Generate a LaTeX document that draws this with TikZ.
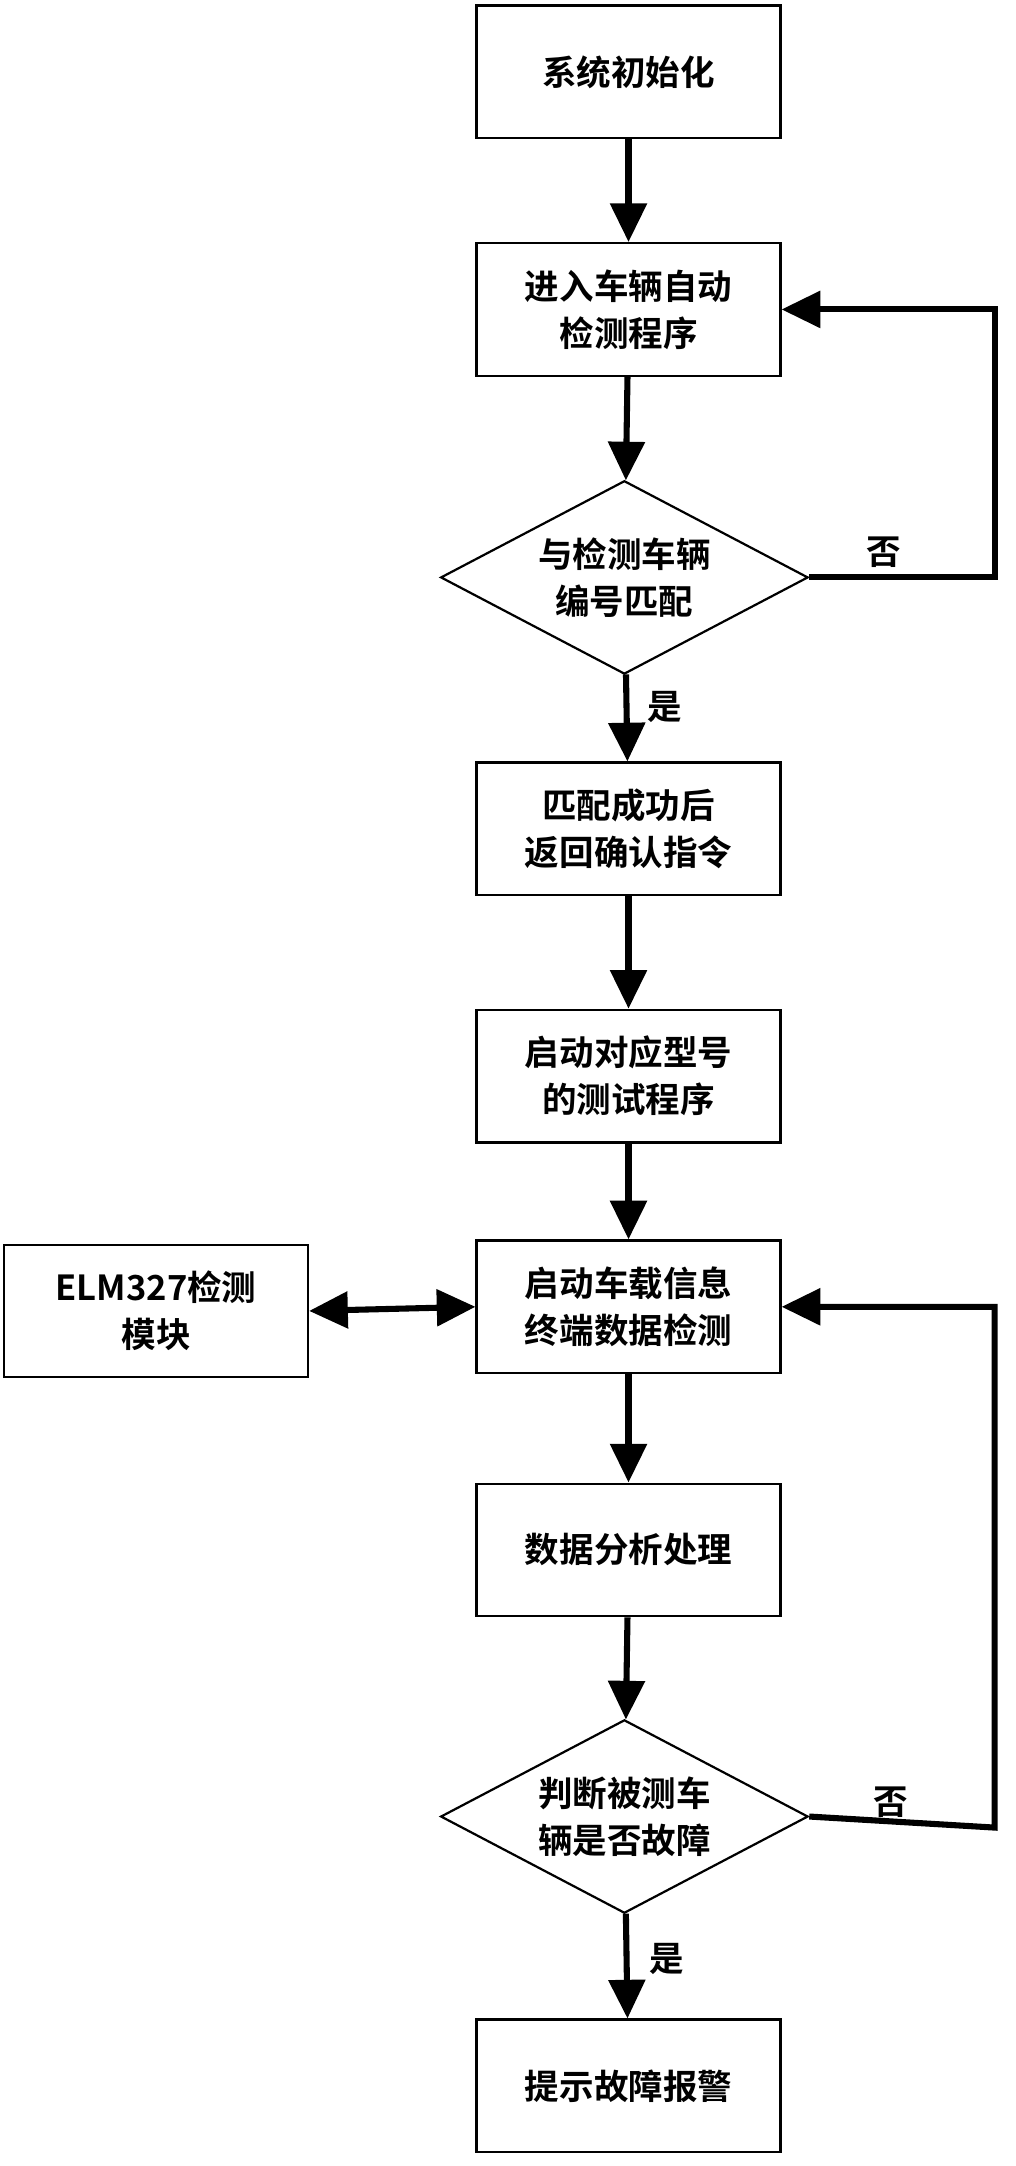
\documentclass[tikz,border=0pt]{standalone}
\usepackage{fontspec}
\setmainfont{Liberation Serif}
\newfontfamily\cjk{Noto Sans CJK SC}[BoldFont={* Bold}]
\usetikzlibrary{arrows.meta,shapes.geometric}
\begin{document}
\begin{tikzpicture}[x=0.5pt,y=-0.5pt,
 box/.style={draw,line width=0.8pt,minimum width=110pt,minimum height=48pt,align=center,font=\cjk\bfseries\fontsize{12.5}{17}\selectfont,inner sep=0pt},
 dia/.style={draw,line width=0.8pt,diamond,aspect=1.9,minimum width=133pt,minimum height=70pt,align=center,font=\cjk\bfseries\fontsize{12.5}{17}\selectfont,inner sep=0pt},
 arr/.style={line width=2.2pt,-{Triangle[width=13pt,length=14pt]}},
 lab/.style={font=\cjk\bfseries\fontsize{12.5}{15}\selectfont}]
\useasboundingbox (0,0) rectangle (735,1568);
\node[box] (b1) at (455,52) {系统初始化};
\node[box] (b2) at (455,224) {进入车辆自动\\检测程序};
\node[dia] (d1) at (452,418) {与检测车辆\\编号匹配};
\node[box] (b3) at (455,600) {匹配成功后\\返回确认指令};
\node[box] (b4) at (455,779) {启动对应型号\\的测试程序};
\node[box] (b5) at (455,946) {启动车载信息\\终端数据检测};
\node[box] (elm) at (113,949) {{\bfseries ELM327}检测\\模块};
\node[box] (b6) at (455,1122) {数据分析处理};
\node[dia] (d2) at (452,1315) {判断被测车\\辆是否故障};
\node[box] (b7) at (455,1510) {提示故障报警};
\coordinate (c1) at (720,418);
\coordinate (c2) at (720,1323);
\draw[arr] (b1) -- (b2);
\draw[arr] (b2) -- (d1);
\draw[arr] (d1) -- (b3);
\draw[arr] (b3) -- (b4);
\draw[arr] (b4) -- (b5);
\draw[arr] (b5) -- (b6);
\draw[arr] (b6) -- (d2);
\draw[arr] (d2) -- (b7);
\draw[arr] (d1.east) -- (c1) |- (b2.east);
\draw[arr] (d2.east) -- (c2) |- (b5.east);
\draw[line width=2.2pt,{Triangle[width=13pt,length=14pt]}-{Triangle[width=13pt,length=14pt]}] (elm.east) -- (b5.west);
\node[lab] at (640,400) {否};
\node[lab] at (645,1305) {否};
\node[lab] at (481,512) {是};
\node[lab] at (483,1418) {是};
\end{tikzpicture}
\end{document}
